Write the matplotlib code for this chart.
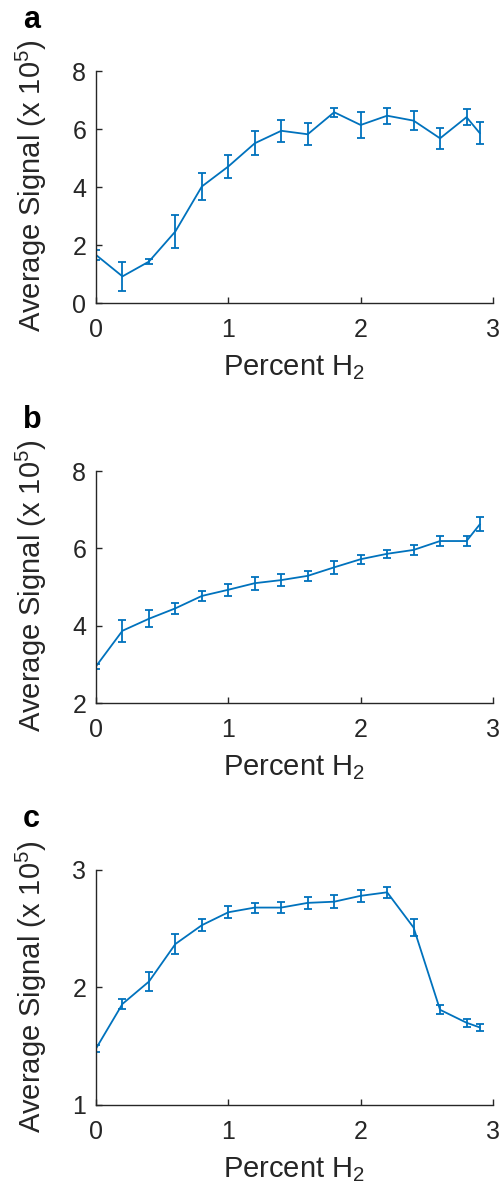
import numpy as np
import matplotlib
matplotlib.use("Agg")
import matplotlib.pyplot as plt

plt.rcParams['font.family'] = ['Liberation Sans', 'DejaVu Sans']
plt.rcParams['mathtext.fontset'] = 'custom'
plt.rcParams['mathtext.rm'] = 'Liberation Sans'
plt.rcParams['mathtext.default'] = 'regular'

# percent H2 (same for all three panels)
percent_h2 = [0, 0.2, 0.4, 0.6, 0.8, 1.0, 1.2, 1.4, 1.6, 1.8, 2.0, 2.2, 2.4, 2.6, 2.8, 2.9]

# panel a
signal_a = [1.66, 0.92, 1.43, 2.47, 4.02, 4.71, 5.51, 5.94, 5.82, 6.58, 6.14, 6.46, 6.29, 5.68, 6.41, 5.86]
err_a = [0.17, 0.50, 0.10, 0.56, 0.48, 0.41, 0.41, 0.38, 0.38, 0.16, 0.46, 0.27, 0.34, 0.37, 0.27, 0.39]

# panel b
signal_b = [2.95, 3.87, 4.18, 4.45, 4.77, 4.93, 5.10, 5.18, 5.29, 5.51, 5.72, 5.86, 5.96, 6.19, 6.19, 6.62]
err_b = [0.07, 0.28, 0.22, 0.15, 0.13, 0.15, 0.17, 0.15, 0.13, 0.17, 0.12, 0.11, 0.12, 0.14, 0.14, 0.18]

# panel c
signal_c = [1.48, 1.86, 2.05, 2.37, 2.53, 2.64, 2.68, 2.68, 2.72, 2.73, 2.78, 2.81, 2.51, 1.81, 1.70, 1.66]
err_c = [0.03, 0.045, 0.08, 0.085, 0.05, 0.05, 0.043, 0.045, 0.05, 0.057, 0.05, 0.047, 0.07, 0.04, 0.033, 0.03]

panels = [
    ("a", signal_a, err_a, (0, 8), [0, 2, 4, 6, 8]),
    ("b", signal_b, err_b, (2, 8), [2, 4, 6, 8]),
    ("c", signal_c, err_c, (1, 3), [1, 2, 3]),
]
positions = [
    [0.1916, 0.7449, 0.7924, 0.1953],
    [0.1916, 0.4082, 0.7924, 0.1953],
    [0.1916, 0.0699, 0.7924, 0.1978],
]

blue = '#0072BD'
dark = '#262626'

fig = plt.figure(figsize=(5.01, 11.88), dpi=100)

for (letter, sig, err, ylim, yticks), pos in zip(panels, positions):
    ax = fig.add_axes(pos)
    ax.errorbar(percent_h2, sig, yerr=err, color=blue, lw=1.3,
                elinewidth=1.3, capsize=3, capthick=1.3)
    ax.set_xlim(0, 3)
    ax.set_ylim(*ylim)
    ax.set_xticks([0, 1, 2, 3])
    ax.set_yticks(yticks)
    ax.spines['top'].set_visible(False)
    ax.spines['right'].set_visible(False)
    for s in ['left', 'bottom']:
        ax.spines[s].set_color(dark)
        ax.spines[s].set_linewidth(1.0)
    ax.tick_params(direction='in', length=4, width=1.0, colors=dark,
                   labelsize=18)
    ax.tick_params(axis='x', pad=11)
    ax.tick_params(axis='y', pad=7)
    ax.set_xlabel('Percent H$_2$', fontsize=21, color=dark)
    ax.set_ylabel('Average Signal (x 10$^5$)', fontsize=21, color=dark)
    ax.xaxis.set_label_coords(0.5, -0.215)
    ax.yaxis.set_label_coords(-0.118, 0.505)
    fig.text(0.046, pos[1] + pos[3] + 0.0362, letter, fontsize=22,
             fontweight='bold', ha='left', va='baseline')

fig.savefig('out.png', dpi=100)
